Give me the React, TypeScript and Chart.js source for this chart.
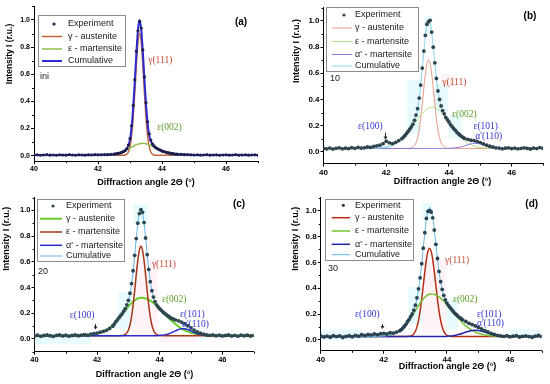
import React, { useEffect, useRef } from "react";
import { Chart, registerables } from "chart.js";

Chart.register(...registerables);

// ---------- shared x grids ----------
const X_FIT = [40, 40.5, 41, 41.5, 42, 42.2, 42.4, 42.5, 42.6, 42.7, 42.8, 42.85, 42.9, 42.95, 43, 43.05, 43.1, 43.15, 43.2, 43.25, 43.3, 43.35, 43.4, 43.45, 43.5, 43.55, 43.6, 43.65, 43.7, 43.75, 43.8, 43.85, 43.9, 43.95, 44, 44.1, 44.2, 44.3, 44.4, 44.5, 44.6, 44.7, 44.8, 44.9, 45, 45.1, 45.2, 45.4, 45.6, 45.8, 46, 46.5, 47];

const EXP_X = [40, 40.1, 40.2, 40.3, 40.4, 40.5, 40.6, 40.7, 40.8, 40.9, 41, 41.1, 41.2, 41.3, 41.4, 41.5, 41.6, 41.7, 41.8, 41.9, 42, 42.1, 42.2, 42.3, 42.4, 42.5,
  42.55, 42.6, 42.65, 42.7, 42.75, 42.8, 42.85, 42.9, 42.95, 43,
  43.05, 43.1, 43.15, 43.2, 43.25, 43.3, 43.35, 43.4, 43.45, 43.5,
  43.55, 43.6, 43.65, 43.7, 43.75, 43.8, 43.85, 43.9, 43.95, 44,
  44.05, 44.1, 44.15, 44.2, 44.25, 44.3, 44.35, 44.4, 44.45, 44.5,
  44.6, 44.7, 44.8, 44.9, 45, 45.1, 45.2, 45.3, 45.4, 45.5, 45.6, 45.7, 45.8, 45.9, 46, 46.1, 46.2, 46.3, 46.4, 46.5, 46.6, 46.7, 46.8, 46.9, 47];

const X_TICKS = [40, 42, 44, 46];
const Y_TICKS = [0, 0.2, 0.4, 0.6, 0.8, 1.0];

// ---------- panel (a): ini ----------
const A_EXP = [0.004, 0.006, 0.003, 0.005, 0.007, 0.004, 0.005, 0.003, 0.006, 0.005, 0.004, 0.007, 0.005, 0.003, 0.006, 0.005, 0.004, 0.006, 0.005, 0.007, 0.006, 0.006, 0.008, 0.007, 0.010, 0.012,
  0.013, 0.015, 0.018, 0.021, 0.025, 0.031, 0.038, 0.052, 0.078, 0.125,
  0.22, 0.37, 0.56, 0.77, 0.92, 0.99, 0.94, 0.78, 0.58, 0.39,
  0.25, 0.16, 0.115, 0.088, 0.072, 0.06, 0.053, 0.045, 0.041, 0.034,
  0.031, 0.027, 0.024, 0.020, 0.019, 0.016, 0.015, 0.012, 0.012, 0.010,
  0.009, 0.007, 0.008, 0.006, 0.005, 0.006, 0.004, 0.005, 0.007, 0.004, 0.005, 0.006, 0.003, 0.005, 0.006, 0.004, 0.005, 0.007, 0.004, 0.005, 0.006, 0.004, 0.005, 0.006, 0.004];
const A_GAMMA = [0.003, 0.003, 0.003, 0.003, 0.003, 0.003, 0.003, 0.003, 0.003, 0.003, 0.003,
  0.005, 0.011, 0.027, 0.066, 0.145, 0.279, 0.465, 0.672, 0.839, 0.903, 0.839, 0.672, 0.465, 0.279, 0.145, 0.066, 0.027, 0.011, 0.005,
  0.003, 0.003, 0.003, 0.003, 0.003, 0.003, 0.003, 0.003, 0.003, 0.003, 0.003, 0.003, 0.003, 0.003, 0.003, 0.003, 0.003, 0.003, 0.003, 0.003, 0.003, 0.003, 0.003];
const A_EPS = [0.003, 0.003, 0.003, 0.003, 0.003, 0.004, 0.007, 0.010, 0.015, 0.022, 0.032, 0.037, 0.043, 0.050, 0.056, 0.063, 0.069, 0.075, 0.081, 0.085, 0.088, 0.090, 0.091, 0.090, 0.088, 0.085, 0.081, 0.075, 0.069, 0.063, 0.056, 0.050, 0.043, 0.037, 0.032, 0.022, 0.015, 0.010, 0.007, 0.005, 0.004,
  0.003, 0.003, 0.003, 0.003, 0.003, 0.003, 0.003, 0.003, 0.003, 0.003, 0.003, 0.003];
const A_CUM = [0.005, 0.005, 0.005, 0.005, 0.006, 0.007, 0.009, 0.011, 0.015, 0.021, 0.030, 0.037, 0.050, 0.075, 0.12, 0.21, 0.36, 0.55, 0.76, 0.93, 1.0, 0.93, 0.77, 0.57, 0.38, 0.24, 0.15, 0.11, 0.085, 0.07, 0.06, 0.052, 0.046, 0.04, 0.035, 0.027, 0.021, 0.016, 0.013, 0.011, 0.009, 0.008, 0.007, 0.006,
  0.005, 0.005, 0.005, 0.005, 0.005, 0.005, 0.005, 0.005, 0.005];

// ---------- panel (b): 10 ----------
const B_EXP = [0.025, 0.022, 0.028, 0.020, 0.026, 0.030, 0.022, 0.027, 0.024, 0.031, 0.026, 0.033, 0.028, 0.030, 0.036, 0.033, 0.040, 0.045, 0.050, 0.062, 0.080, 0.068, 0.062, 0.072, 0.085, 0.100,
  0.112, 0.125, 0.140, 0.155, 0.172, 0.190, 0.210, 0.240, 0.280, 0.330,
  0.410, 0.510, 0.640, 0.770, 0.890, 0.975, 0.995, 1.005, 0.915, 0.800,
  0.680, 0.560, 0.465, 0.400, 0.350, 0.315, 0.290, 0.262, 0.245, 0.228,
  0.208, 0.192, 0.178, 0.165, 0.150, 0.138, 0.128, 0.118, 0.110, 0.102,
  0.095, 0.088, 0.085, 0.079, 0.070, 0.060, 0.050, 0.042, 0.036, 0.030, 0.028, 0.022, 0.027, 0.030, 0.024, 0.028, 0.022, 0.026, 0.030, 0.025, 0.021, 0.028, 0.024, 0.032, 0.026];
const B_GAMMA = [0.025, 0.025, 0.025, 0.025, 0.025, 0.025, 0.025, 0.025, 0.025, 0.025,
  0.029, 0.034, 0.046, 0.068, 0.107, 0.168, 0.256, 0.365, 0.486, 0.597, 0.676, 0.705, 0.676, 0.597, 0.486, 0.365, 0.256, 0.168, 0.107, 0.068, 0.046, 0.034, 0.029,
  0.026, 0.025, 0.025, 0.025, 0.025, 0.025, 0.025, 0.025, 0.025, 0.025, 0.025, 0.025, 0.025, 0.025, 0.025, 0.025, 0.025, 0.025, 0.025, 0.025];
const B_EPS = [0.025, 0.025, 0.025, 0.026, 0.035, 0.049, 0.076, 0.095, 0.119, 0.147, 0.179, 0.196, 0.213, 0.230, 0.247, 0.263, 0.278, 0.293, 0.305, 0.317, 0.326, 0.333, 0.338, 0.340, 0.340, 0.337, 0.332, 0.324, 0.315, 0.303, 0.290, 0.275, 0.260, 0.243, 0.226, 0.192, 0.160, 0.130, 0.104, 0.083, 0.066, 0.053, 0.044, 0.037, 0.033, 0.030, 0.028, 0.026, 0.025, 0.025, 0.025, 0.025, 0.025];
const B_ALPHA = [0.025, 0.025, 0.025, 0.025, 0.025, 0.025, 0.025, 0.025, 0.025, 0.025, 0.025, 0.025, 0.025, 0.025, 0.025, 0.025, 0.025, 0.025, 0.025, 0.025, 0.025, 0.025, 0.025, 0.025, 0.025, 0.025, 0.025, 0.025, 0.025, 0.025, 0.025, 0.025, 0.025, 0.025,
  0.026, 0.027, 0.029, 0.032, 0.038, 0.045, 0.053, 0.060, 0.064, 0.064, 0.060, 0.053, 0.045, 0.032, 0.027, 0.025, 0.025, 0.025, 0.025];
const B_CUM = [0.025, 0.025, 0.025, 0.026, 0.035, 0.049, 0.076, 0.095, 0.119, 0.147, 0.183, 0.205, 0.234, 0.273, 0.329, 0.406, 0.509, 0.633, 0.766, 0.889, 0.977, 1.005, 0.989, 0.912, 0.801, 0.677, 0.563, 0.467, 0.397, 0.346, 0.311, 0.284, 0.264, 0.244, 0.227, 0.194, 0.164, 0.137, 0.117, 0.103, 0.094, 0.088, 0.083, 0.076, 0.068, 0.058, 0.048, 0.033, 0.027, 0.025, 0.025, 0.025, 0.025];

// ---------- panel (c): 20 ----------
const C_EXP = [0.022, 0.028, 0.020, 0.026, 0.030, 0.024, 0.019, 0.027, 0.031, 0.023, 0.028, 0.021, 0.026, 0.030, 0.024, 0.029, 0.033, 0.028, 0.036, 0.040, 0.045, 0.052, 0.058, 0.066, 0.080, 0.098,
  0.115, 0.133, 0.148, 0.165, 0.180, 0.195, 0.215, 0.235, 0.265, 0.300,
  0.355, 0.430, 0.530, 0.650, 0.780, 0.900, 0.975, 1.005, 0.985, 0.905,
  0.785, 0.655, 0.540, 0.445, 0.375, 0.325, 0.290, 0.265, 0.248, 0.235,
  0.222, 0.210, 0.200, 0.190, 0.180, 0.172, 0.163, 0.158, 0.152, 0.148,
  0.140, 0.130, 0.118, 0.102, 0.085, 0.068, 0.054, 0.044, 0.036, 0.030, 0.027, 0.031, 0.024, 0.028, 0.022, 0.026, 0.030, 0.023, 0.027, 0.021, 0.029, 0.024, 0.028, 0.022, 0.026];
const C_GAMMA = [0.025, 0.025, 0.025, 0.026, 0.040, 0.057, 0.088, 0.109, 0.134, 0.162, 0.192, 0.207, 0.222, 0.238, 0.252, 0.266, 0.278, 0.290, 0.300, 0.308, 0.314, 0.318, 0.320, 0.320, 0.318, 0.315, 0.310, 0.304, 0.297, 0.289, 0.280, 0.269, 0.258, 0.246, 0.234, 0.209, 0.184, 0.159, 0.136, 0.115, 0.096, 0.080, 0.067, 0.057, 0.048, 0.042, 0.037, 0.030, 0.027, 0.026, 0.025, 0.025, 0.025];
const C_EPS = [0.025, 0.025, 0.025, 0.025, 0.025, 0.025, 0.025, 0.025, 0.025, 0.025,
  0.026, 0.029, 0.034, 0.046, 0.069, 0.108, 0.171, 0.261, 0.373, 0.496, 0.609, 0.691, 0.720, 0.691, 0.609, 0.496, 0.373, 0.261, 0.171, 0.108, 0.069, 0.046, 0.034, 0.029, 0.026,
  0.025, 0.025, 0.025, 0.025, 0.025, 0.025, 0.025, 0.025, 0.025, 0.025, 0.025, 0.025, 0.025, 0.025, 0.025, 0.025, 0.025, 0.025];
const C_ALPHA = [0.025, 0.025, 0.025, 0.025, 0.025, 0.025, 0.025, 0.025, 0.025, 0.025, 0.025, 0.025, 0.025, 0.025, 0.025, 0.025, 0.025, 0.025, 0.025, 0.025, 0.025, 0.025, 0.025, 0.025, 0.025, 0.025, 0.025, 0.025, 0.025, 0.025, 0.025, 0.025, 0.025, 0.025,
  0.027, 0.029, 0.033, 0.040, 0.050, 0.062, 0.073, 0.079, 0.079, 0.073, 0.062, 0.050, 0.040, 0.029, 0.026, 0.025, 0.025, 0.025, 0.025];
const C_CUM = [0.025, 0.025, 0.025, 0.026, 0.040, 0.057, 0.088, 0.109, 0.134, 0.162, 0.193, 0.211, 0.231, 0.259, 0.296, 0.349, 0.424, 0.526, 0.648, 0.779, 0.898, 0.984, 1.015, 0.986, 0.902, 0.786, 0.658, 0.540, 0.443, 0.372, 0.324, 0.290, 0.267, 0.250, 0.237, 0.213, 0.192, 0.174, 0.161, 0.152, 0.144, 0.134, 0.121, 0.105, 0.085, 0.067, 0.052, 0.034, 0.028, 0.026, 0.025, 0.025, 0.025];

// ---------- panel (d): 30 ----------
const D_EXP = [0.030, 0.022, 0.028, 0.020, 0.033, 0.025, 0.030, 0.018, 0.026, 0.032, 0.024, 0.035, 0.028, 0.040, 0.034, 0.042, 0.038, 0.046, 0.040, 0.048, 0.050, 0.045, 0.055, 0.052, 0.060, 0.070,
  0.078, 0.090, 0.105, 0.120, 0.140, 0.158, 0.180, 0.200, 0.230, 0.268,
  0.325, 0.395, 0.480, 0.590, 0.710, 0.830, 0.940, 0.995, 1.000, 0.990,
  0.945, 0.850, 0.740, 0.630, 0.530, 0.450, 0.390, 0.345, 0.310, 0.285,
  0.265, 0.250, 0.235, 0.220, 0.205, 0.195, 0.183, 0.172, 0.165, 0.155,
  0.142, 0.128, 0.118, 0.108, 0.096, 0.084, 0.072, 0.062, 0.050, 0.042, 0.035, 0.030, 0.026, 0.032, 0.024, 0.028, 0.033, 0.022, 0.027, 0.031, 0.025, 0.020, 0.029, 0.034, 0.026];
const D_GAMMA = [0.025, 0.025, 0.025, 0.025, 0.025, 0.025, 0.025, 0.025, 0.025, 0.025,
  0.027, 0.030, 0.035, 0.046, 0.066, 0.100, 0.150, 0.222, 0.313, 0.419, 0.526, 0.622, 0.687, 0.710, 0.687, 0.622, 0.526, 0.419, 0.313, 0.222, 0.150, 0.100, 0.066, 0.046, 0.035, 0.027,
  0.025, 0.025, 0.025, 0.025, 0.025, 0.025, 0.025, 0.025, 0.025, 0.025, 0.025, 0.025, 0.025, 0.025, 0.025, 0.025, 0.025];
const D_EPS = [0.025, 0.025, 0.025, 0.025, 0.029, 0.036, 0.054, 0.070, 0.090, 0.117, 0.149, 0.167, 0.186, 0.205, 0.225, 0.245, 0.265, 0.283, 0.301, 0.316, 0.330, 0.341, 0.349, 0.353, 0.355, 0.354, 0.351, 0.347, 0.340, 0.332, 0.323, 0.312, 0.300, 0.287, 0.273, 0.244, 0.214, 0.185, 0.157, 0.131, 0.108, 0.089, 0.073, 0.061, 0.051, 0.043, 0.037, 0.031, 0.027, 0.026, 0.025, 0.025, 0.025];
const D_ALPHA = [0.025, 0.025, 0.025, 0.025, 0.025, 0.025, 0.025, 0.025, 0.025, 0.025, 0.025, 0.025, 0.025, 0.025, 0.025, 0.025, 0.025, 0.025, 0.025, 0.025, 0.025, 0.025, 0.025, 0.025, 0.025, 0.025, 0.025, 0.025, 0.025, 0.025, 0.025, 0.025,
  0.026, 0.026, 0.027, 0.029, 0.032, 0.037, 0.043, 0.051, 0.060, 0.067, 0.073, 0.075, 0.073, 0.067, 0.060, 0.043, 0.032, 0.027, 0.025, 0.025, 0.025];
const D_CUM = [0.025, 0.025, 0.025, 0.025, 0.029, 0.036, 0.054, 0.070, 0.090, 0.117, 0.151, 0.172, 0.196, 0.226, 0.266, 0.320, 0.390, 0.480, 0.589, 0.710, 0.831, 0.938, 1.000, 1.025, 1.005, 0.951, 0.852, 0.741, 0.628, 0.529, 0.448, 0.387, 0.342, 0.309, 0.285, 0.250, 0.221, 0.197, 0.175, 0.157, 0.143, 0.131, 0.121, 0.111, 0.099, 0.085, 0.072, 0.049, 0.034, 0.028, 0.025, 0.025, 0.025];

// ---------- faint highlight patches of the scanned figure (data units: x0, x1, y0, y1) ----------
const CYAN = "rgba(215, 248, 251, 0.6)";
const PINK = "rgba(253, 234, 240, 0.55)";
type Patch = { x0: number; x1: number; y0: number; y1: number; c: string };
const B_PATCHES: Patch[] = [
  { x0: 43.22, x1: 43.45, y0: 0.9, y1: 1.04, c: CYAN },
  { x0: 42.66, x1: 43.1, y0: 0.14, y1: 0.55, c: CYAN },
  { x0: 43.56, x1: 43.98, y0: 0.3, y1: 0.52, c: CYAN },
  { x0: 43.98, x1: 44.4, y0: 0.1, y1: 0.28, c: CYAN },
  { x0: 43.75, x1: 44.2, y0: 0.5, y1: 0.6, c: PINK },
];
const C_PATCHES: Patch[] = [
  { x0: 40, x1: 41.8, y0: -0.04, y1: 0.04, c: CYAN },
  { x0: 43.16, x1: 43.62, y0: 0.9, y1: 1.05, c: CYAN },
  { x0: 42.68, x1: 43.1, y0: 0.08, y1: 0.36, c: CYAN },
  { x0: 43.1, x1: 43.95, y0: 0.02, y1: 0.62, c: PINK },
  { x0: 44.0, x1: 45.2, y0: -0.03, y1: 0.03, c: PINK },
  { x0: 45.2, x1: 45.5, y0: -0.01, y1: 0.05, c: CYAN },
];
const D_PATCHES: Patch[] = [
  { x0: 40, x1: 41.3, y0: 0.0, y1: 0.08, c: CYAN },
  { x0: 46, x1: 47, y0: 0.02, y1: 0.08, c: CYAN },
  { x0: 43.22, x1: 43.54, y0: 0.93, y1: 1.06, c: CYAN },
  { x0: 42.78, x1: 43.22, y0: 0.12, y1: 0.41, c: CYAN },
  { x0: 43.22, x1: 43.97, y0: 0.06, y1: 0.62, c: PINK },
  { x0: 43.97, x1: 44.34, y0: 0.08, y1: 0.31, c: CYAN },
];

// ---------- types ----------
type Series = { label: string; x: number[]; y: number[]; color: string; width: number; kind: "dot" | "line"; radius?: number; order: number };
type Note = { text: string; x: number; y: number; color: string };
type Spec = {
  left: number; top: number;
  area: { left: number; right: number; top: number; bottom: number };
  yMin: number; yMax: number;
  tickFont: number;
  series: Series[];
  patches: Patch[];
  legend: { x: number; y: number; w: number; h: number; rows: number[]; lx0: number; lx1: number; dotX: number; tx: number; font: number };
  tag: { text: string; x: number; y: number };
  sample: { text: string; x: number; y: number };
  notes: Note[];
  arrow: null | { x: number; y0: number; y1: number; color: string };
  xTitle: { x: number; y: number };
  yTitle: { x: number; y: number; font: number };
  noteFont: number;
};

const W = 275;
const H = 192;
const SANS = '"Liberation Sans", Arial, Helvetica, sans-serif';
const SERIF = '"Liberation Serif", "Times New Roman", serif';
const RED_NOTE = "#c4462a";
const GREEN_NOTE = "#5a9c26";
const BLUE_NOTE = "#3434d2";

const SPECS: Spec[] = [
  {
    left: 0, top: 0,
    area: { left: 34, right: 258, top: 6.4, bottom: 161.1 },
    yMin: -0.04, yMax: 1.1, tickFont: 7,
    series: [
      { label: "Experiment", x: EXP_X, y: A_EXP, color: "#1e1e50", width: 0, kind: "dot", radius: 1.6, order: 0 },
      { label: "\u03b3 - austenite", x: X_FIT, y: A_GAMMA, color: "#c4643c", width: 1.5, kind: "line", order: 3 },
      { label: "\u03b5 - martensite", x: X_FIT, y: A_EPS, color: "#8cc04a", width: 1.5, kind: "line", order: 2 },
      { label: "Cumulative", x: X_FIT, y: A_CUM, color: "#2a2ad0", width: 2, kind: "line", order: 1 },
    ],
    patches: [],
    legend: { x: 38, y: 15, w: 87, h: 51, rows: [24, 36.5, 49, 61], lx0: 42, lx1: 62, dotX: 54, tx: 68, font: 9 },
    tag: { text: "(a)", x: 241, y: 22 },
    sample: { text: "ini", x: 40, y: 77 },
    notes: [
      { text: "\u03b3(111)", x: 43.57, y: 0.705, color: RED_NOTE },
      { text: "\u03b5(002)", x: 43.85, y: 0.204, color: GREEN_NOTE },
    ],
    arrow: null,
    xTitle: { x: 146, y: 183 },
    yTitle: { x: 9.5, y: 54, font: 8.5 },
    noteFont: 9.5,
  },
  {
    left: 275, top: 0,
    area: { left: 48.5, right: 268, top: 7.9, bottom: 163.5 },
    yMin: -0.09, yMax: 1.1, tickFont: 8,
    series: [
      { label: "Experiment", x: EXP_X, y: B_EXP, color: "#30444e", width: 0, kind: "dot", radius: 1.9, order: 0 },
      { label: "\u03b3 - austenite", x: X_FIT, y: B_GAMMA, color: "#e39a84", width: 1, kind: "line", order: 4 },
      { label: "\u03b5 - martensite", x: X_FIT, y: B_EPS, color: "#b2dc84", width: 1, kind: "line", order: 3 },
      { label: "\u03b1' - martensite", x: X_FIT, y: B_ALPHA, color: "#8878e6", width: 1, kind: "line", order: 2 },
      { label: "Cumulative", x: X_FIT, y: B_CUM, color: "#88d4ec", width: 1, kind: "line", order: 1 },
    ],
    patches: B_PATCHES,
    legend: { x: 50.5, y: 7, w: 92, h: 64, rows: [15, 28, 41.5, 54.5, 66], lx0: 57, lx1: 77, dotX: 69, tx: 80, font: 9 },
    tag: { text: "(b)", x: 255, y: 16 },
    sample: { text: "10", x: 55, y: 79 },
    notes: [
      { text: "\u03b3(111)", x: 43.79, y: 0.533, color: RED_NOTE },
      { text: "\u03b5(002)", x: 44.1, y: 0.288, color: GREEN_NOTE },
      { text: "\u03b5(100)", x: 41.1, y: 0.19, color: BLUE_NOTE },
      { text: "\u03b5(101)", x: 44.78, y: 0.19, color: BLUE_NOTE },
      { text: "\u03b1'(110)", x: 44.84, y: 0.12, color: BLUE_NOTE },
    ],
    arrow: { x: 41.97, y0: 0.145, y1: 0.094, color: "#222" },
    xTitle: { x: 167.5, y: 182 },
    yTitle: { x: 21.7, y: 51, font: 9 },
    noteFont: 9.5,
  },
  {
    left: 0, top: 192,
    area: { left: 34.5, right: 253.6, top: 3.7, bottom: 159.7 },
    yMin: -0.1, yMax: 1.1, tickFont: 7.5,
    series: [
      { label: "Experiment", x: EXP_X, y: C_EXP, color: "#2e4850", width: 0, kind: "dot", radius: 1.9, order: 0 },
      { label: "\u03b3 - austenite", x: X_FIT, y: C_GAMMA, color: "#68cc2c", width: 2, kind: "line", order: 4 },
      { label: "\u03b5 - martensite", x: X_FIT, y: C_EPS, color: "#a4381a", width: 1.5, kind: "line", order: 3 },
      { label: "\u03b1' - martensite", x: X_FIT, y: C_ALPHA, color: "#2a2acc", width: 1.5, kind: "line", order: 2 },
      { label: "Cumulative", x: X_FIT, y: C_CUM, color: "#64b4e6", width: 1, kind: "line", order: 1 },
    ],
    patches: C_PATCHES,
    legend: { x: 36.7, y: 7, w: 87.3, h: 62, rows: [14, 26.7, 40, 53.3, 64], lx0: 40, lx1: 62, dotX: 53, tx: 66, font: 9 },
    tag: { text: "(c)", x: 239, y: 12 },
    sample: { text: "20", x: 38, y: 80 },
    notes: [
      { text: "\u03b3(111)", x: 43.75, y: 0.575, color: RED_NOTE },
      { text: "\u03b5(002)", x: 44.07, y: 0.305, color: GREEN_NOTE },
      { text: "\u03b5(100)", x: 41.13, y: 0.182, color: BLUE_NOTE },
      { text: "\u03b5(101)", x: 44.65, y: 0.19, color: BLUE_NOTE },
      { text: "\u03b1'(110)", x: 44.71, y: 0.113, color: BLUE_NOTE },
    ],
    arrow: { x: 41.92, y0: 0.115, y1: 0.072, color: "#222" },
    xTitle: { x: 144.5, y: 183 },
    yTitle: { x: 7, y: 46.7, font: 9 },
    noteFont: 9.5,
  },
  {
    left: 275, top: 192,
    area: { left: 45.7, right: 266.6, top: 3.6, bottom: 158.8 },
    yMin: -0.085, yMax: 1.1, tickFont: 8,
    series: [
      { label: "Experiment", x: EXP_X, y: D_EXP, color: "#2a4250", width: 0, kind: "dot", radius: 1.9, order: 0 },
      { label: "\u03b3 - austenite", x: X_FIT, y: D_GAMMA, color: "#b82c14", width: 1.5, kind: "line", order: 4 },
      { label: "\u03b5 - martensite", x: X_FIT, y: D_EPS, color: "#74c434", width: 1.5, kind: "line", order: 3 },
      { label: "\u03b1' - martensite", x: X_FIT, y: D_ALPHA, color: "#2424a8", width: 1.5, kind: "line", order: 2 },
      { label: "Cumulative", x: X_FIT, y: D_CUM, color: "#64b8e4", width: 1, kind: "line", order: 1 },
    ],
    patches: D_PATCHES,
    legend: { x: 50, y: 7, w: 88, h: 61, rows: [13.3, 25.7, 39, 52.3, 62.7], lx0: 56.7, lx1: 75, dotX: 68.3, tx: 80, font: 9 },
    tag: { text: "(d)", x: 256.7, y: 12.3 },
    sample: { text: "30", x: 53, y: 77 },
    notes: [
      { text: "\u03b3(111)", x: 43.94, y: 0.616, color: RED_NOTE },
      { text: "\u03b5(002)", x: 44.19, y: 0.31, color: GREEN_NOTE },
      { text: "\u03b5(100)", x: 41.09, y: 0.196, color: BLUE_NOTE },
      { text: "\u03b5(101)", x: 44.95, y: 0.196, color: BLUE_NOTE },
      { text: "\u03b1'(110)", x: 44.95, y: 0.127, color: BLUE_NOTE },
    ],
    arrow: { x: 41.93, y0: 0.122, y1: 0.084, color: "#222" },
    xTitle: { x: 172.5, y: 175 },
    yTitle: { x: 20.7, y: 46.7, font: 9 },
    noteFont: 9.5,
  },
];

function makeExtras(spec: Spec) {
  return {
    id: "extras",
    beforeDatasetsDraw(chart: any) {
      const ctx: CanvasRenderingContext2D = chart.ctx;
      const xs = chart.scales.x;
      const ys = chart.scales.y;
      const a = chart.chartArea;
      ctx.save();
      ctx.beginPath();
      ctx.rect(a.left, a.top, a.right - a.left, a.bottom - a.top);
      ctx.clip();
      spec.patches.forEach((p) => {
        const x0 = xs.getPixelForValue(p.x0);
        const x1 = xs.getPixelForValue(p.x1);
        const y0 = ys.getPixelForValue(p.y1);
        const y1 = ys.getPixelForValue(p.y0);
        ctx.fillStyle = p.c;
        ctx.fillRect(x0, y0, x1 - x0, y1 - y0);
      });
      ctx.restore();
    },
    afterDraw(chart: any) {
      const ctx: CanvasRenderingContext2D = chart.ctx;
      const xs = chart.scales.x;
      const ys = chart.scales.y;
      const { left, bottom } = chart.chartArea;
      ctx.save();
      // minor ticks
      ctx.strokeStyle = "#000";
      ctx.lineWidth = 1;
      ctx.beginPath();
      for (let v = 41; v <= 47; v += 2) {
        const px = Math.round(xs.getPixelForValue(v)) + 0.5;
        ctx.moveTo(px, bottom);
        ctx.lineTo(px, bottom + 2);
      }
      for (let k = Math.ceil(spec.yMin * 10); k <= Math.floor(spec.yMax * 10); k++) {
        if (k % 2 === 0) continue;
        const py = Math.round(ys.getPixelForValue(k / 10)) + 0.5;
        ctx.moveTo(left - 2, py);
        ctx.lineTo(left, py);
      }
      ctx.stroke();

      // legend
      const L = spec.legend;
      ctx.fillStyle = "#fff";
      ctx.fillRect(L.x, L.y, L.w, L.h);
      ctx.strokeStyle = "#8c8c8c";
      ctx.lineWidth = 1;
      ctx.strokeRect(Math.round(L.x) + 0.5, Math.round(L.y) + 0.5, Math.round(L.w), Math.round(L.h));
      spec.series.forEach((s, i) => {
        const ry = L.rows[i];
        if (s.kind === "dot") {
          ctx.fillStyle = s.color;
          ctx.beginPath();
          ctx.arc(L.dotX, ry, 1.6, 0, Math.PI * 2);
          ctx.fill();
        } else {
          ctx.strokeStyle = s.color;
          ctx.lineWidth = s.width;
          ctx.beginPath();
          ctx.moveTo(L.lx0, ry);
          ctx.lineTo(L.lx1, ry);
          ctx.stroke();
        }
        ctx.fillStyle = "#1a1a1a";
        ctx.font = `${L.font}px ${SANS}`;
        ctx.textAlign = "left";
        ctx.textBaseline = "middle";
        ctx.fillText(s.label, L.tx, ry);
      });

      // notes
      ctx.font = `${spec.noteFont}px ${SERIF}`;
      ctx.textAlign = "left";
      ctx.textBaseline = "middle";
      spec.notes.forEach((n) => {
        ctx.fillStyle = n.color;
        ctx.fillText(n.text, xs.getPixelForValue(n.x), ys.getPixelForValue(n.y));
      });

      // arrow
      if (spec.arrow) {
        const ar = spec.arrow;
        const ax = Math.round(xs.getPixelForValue(ar.x)) + 0.5;
        const ay0 = ys.getPixelForValue(ar.y0);
        const ay1 = ys.getPixelForValue(ar.y1);
        ctx.strokeStyle = ar.color;
        ctx.fillStyle = ar.color;
        ctx.lineWidth = 1;
        ctx.beginPath();
        ctx.moveTo(ax, ay0);
        ctx.lineTo(ax, ay1 - 2);
        ctx.stroke();
        ctx.beginPath();
        ctx.moveTo(ax - 2, ay1 - 3);
        ctx.lineTo(ax + 2, ay1 - 3);
        ctx.lineTo(ax, ay1);
        ctx.closePath();
        ctx.fill();
      }

      // tag and sample
      ctx.fillStyle = "#000";
      ctx.font = `bold 10px ${SANS}`;
      ctx.textAlign = "center";
      ctx.fillText(spec.tag.text, spec.tag.x, spec.tag.y);
      ctx.font = `9px ${SANS}`;
      ctx.textAlign = "left";
      ctx.fillStyle = "#222";
      ctx.fillText(spec.sample.text, spec.sample.x, spec.sample.y);

      // axis titles
      ctx.fillStyle = "#000";
      ctx.font = `bold 9px ${SANS}`;
      ctx.textAlign = "center";
      ctx.fillText("Diffraction angle 2\u0398 (\u00b0)", spec.xTitle.x, spec.xTitle.y);
      ctx.save();
      ctx.translate(spec.yTitle.x, spec.yTitle.y);
      ctx.rotate(-Math.PI / 2);
      ctx.font = `bold ${spec.yTitle.font}px ${SANS}`;
      ctx.fillText("Intensity I (r.u.)", 0, 0);
      ctx.restore();
      ctx.restore();
    },
  };
}

function buildConfig(spec: Spec): any {
  const datasets = spec.series.map((s) => ({
    label: s.label,
    data: s.x.map((x, j) => ({ x, y: s.y[j] })),
    showLine: s.kind === "line",
    borderColor: s.color,
    backgroundColor: s.color,
    borderWidth: s.kind === "line" ? s.width : 0,
    pointRadius: s.kind === "dot" ? s.radius : 0,
    pointBorderWidth: 0,
    pointHoverRadius: 0,
    cubicInterpolationMode: "monotone",
    order: s.order,
  }));
  const tickFont = { size: spec.tickFont, weight: "bold" as const, family: SANS };
  return {
    type: "scatter",
    data: { datasets },
    options: {
      animation: false,
      responsive: false,
      maintainAspectRatio: false,
      events: [],
      layout: { padding: { left: 0, top: spec.area.top, right: W - spec.area.right, bottom: 0 } },
      plugins: { legend: { display: false }, tooltip: { enabled: false } },
      scales: {
        x: {
          type: "linear",
          min: 40,
          max: 47,
          afterFit: (s: any) => { s.height = H - spec.area.bottom; },
          afterBuildTicks: (s: any) => { s.ticks = X_TICKS.map((v) => ({ value: v })); },
          ticks: { font: tickFont, color: "#000", padding: 1, maxRotation: 0, autoSkip: false, callback: (v: any) => String(v) },
          grid: { drawOnChartArea: false, tickLength: 3, color: "#000" },
          border: { color: "#000", width: 1 },
        },
        y: {
          type: "linear",
          min: spec.yMin,
          max: spec.yMax,
          afterFit: (s: any) => { s.width = spec.area.left; },
          afterBuildTicks: (s: any) => { s.ticks = Y_TICKS.map((v) => ({ value: v })); },
          ticks: { font: tickFont, color: "#000", padding: 1, autoSkip: false, callback: (v: any) => Number(v).toFixed(1) },
          grid: { drawOnChartArea: false, tickLength: 3, color: "#000" },
          border: { color: "#000", width: 1 },
        },
      },
    },
    plugins: [makeExtras(spec)],
  };
}

function Panel({ spec }: { spec: Spec }) {
  const ref = useRef<HTMLCanvasElement | null>(null);
  useEffect(() => {
    if (!ref.current) return;
    const chart = new Chart(ref.current, buildConfig(spec));
    return () => chart.destroy();
  }, [spec]);
  return (
    <canvas
      ref={ref}
      width={W}
      height={H}
      style={{ position: "absolute", left: spec.left, top: spec.top, width: W, height: H }}
    />
  );
}

export default function App() {
  return (
    <div style={{ position: "absolute", left: 0, top: 0, width: 550, height: 384, background: "#fff", overflow: "hidden" }}>
      {SPECS.map((s, i) => (
        <Panel key={i} spec={s} />
      ))}
    </div>
  );
}
